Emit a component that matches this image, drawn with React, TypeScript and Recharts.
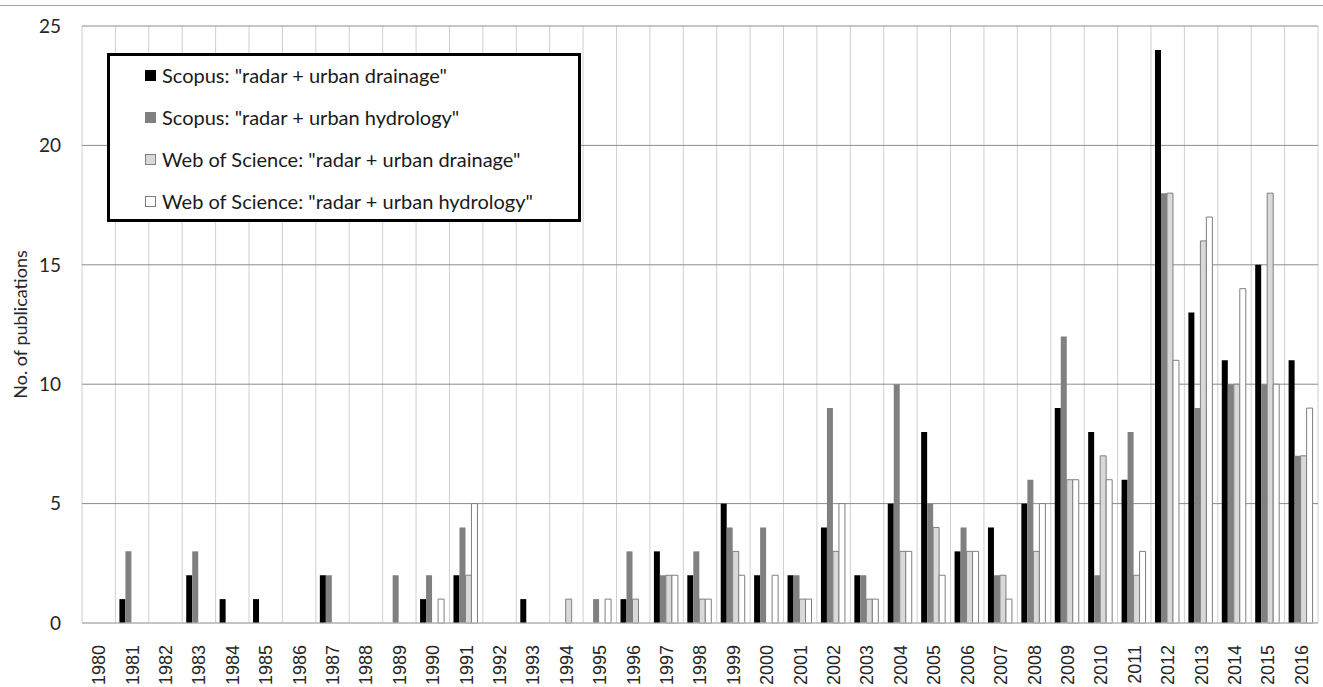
import React from 'react'
import { BarChart, Bar, XAxis, YAxis, CartesianGrid, Legend } from 'recharts'

const years = [
  '1980', '1981', '1982', '1983', '1984', '1985', '1986', '1987', '1988', '1989',
  '1990', '1991', '1992', '1993', '1994', '1995', '1996', '1997', '1998', '1999',
  '2000', '2001', '2002', '2003', '2004', '2005', '2006', '2007', '2008', '2009',
  '2010', '2011', '2012', '2013', '2014', '2015', '2016',
]

const scopusDrainage = [0, 1, 0, 2, 1, 1, 0, 2, 0, 0, 1, 2, 0, 1, 0, 0, 1, 3, 2, 5, 2, 2, 4, 2, 5, 8, 3, 4, 5, 9, 8, 6, 24, 13, 11, 15, 11]
const scopusHydrology = [0, 3, 0, 3, 0, 0, 0, 2, 0, 2, 2, 4, 0, 0, 0, 1, 3, 2, 3, 4, 4, 2, 9, 2, 10, 5, 4, 2, 6, 12, 2, 8, 18, 9, 10, 10, 7]
const wosDrainage = [0, 0, 0, 0, 0, 0, 0, 0, 0, 0, 0, 2, 0, 0, 1, 0, 1, 2, 1, 3, 0, 1, 3, 1, 3, 4, 3, 2, 3, 6, 7, 2, 18, 16, 10, 18, 7]
const wosHydrology = [0, 0, 0, 0, 0, 0, 0, 0, 0, 0, 1, 5, 0, 0, 0, 1, 0, 2, 1, 2, 2, 1, 5, 1, 3, 2, 3, 1, 5, 6, 6, 3, 11, 17, 14, 10, 9]

const yTicks = [0, 5, 10, 15, 20, 25]

const series = [
  { key: 'scopusDrainage', name: 'Scopus: "radar + urban drainage"', fill: '#000000', stroke: 'none' },
  { key: 'scopusHydrology', name: 'Scopus: "radar + urban hydrology"', fill: '#808080', stroke: 'none' },
  { key: 'wosDrainage', name: 'Web of Science: "radar + urban drainage"', fill: '#d9d9d9', stroke: '#7f7f7f' },
  { key: 'wosHydrology', name: 'Web of Science: "radar + urban hydrology"', fill: '#ffffff', stroke: '#7f7f7f' },
]

const data = years.map((year, i) => ({
  year,
  scopusDrainage: scopusDrainage[i],
  scopusHydrology: scopusHydrology[i],
  wosDrainage: wosDrainage[i],
  wosHydrology: wosHydrology[i],
}))

const W = 1323
const H = 687

function YearTick({ x, y, payload }: any) {
  return (
    <text
      x={x}
      y={y + 14}
      transform={`rotate(-90, ${x}, ${y + 14})`}
      textAnchor="end"
      dy="0.36em"
      fontFamily="'Liberation Sans', Arial, sans-serif"
      fontSize={18}
      fill="#262626"
    >
      {payload.value}
    </text>
  )
}

function YTitle({ viewBox }: any) {
  const cx = viewBox.x + 21
  const cy = viewBox.y + viewBox.height / 2
  return (
    <text
      x={cx}
      y={cy}
      transform={`rotate(-90, ${cx}, ${cy})`}
      textAnchor="middle"
      dy="0.35em"
      fontFamily="Lato, sans-serif"
      fontSize={18}
      fill="#262626"
    >
      No. of publications
    </text>
  )
}

function LegendBox() {
  return (
    <div
      style={{
        boxSizing: 'border-box',
        width: 474,
        height: 169,
        border: '3px solid #000',
        background: '#fff',
        fontFamily: 'Lato, sans-serif',
        fontSize: 20,
        color: '#1a1a1a',
      }}
    >
      <div style={{ marginTop: -2 }}>
        {series.map((s) => (
          <div key={s.key} style={{ height: 42, display: 'flex', alignItems: 'center', paddingLeft: 35 }}>
            <span
              style={{
                display: 'inline-block',
                boxSizing: 'border-box',
                width: 11,
                height: 11,
                background: s.fill,
                border: `1px solid ${s.stroke === 'none' ? s.fill : s.stroke}`,
                marginRight: 6,
              }}
            />
            <span>{s.name}</span>
          </div>
        ))}
      </div>
    </div>
  )
}

export default function App() {
  return (
    <div style={{ position: 'absolute', left: 0, top: 0, width: W, height: H, background: '#fff' }}>
      <div style={{ position: 'absolute', left: 0, top: 5, width: W, borderTop: '1px solid #a6a6a6' }} />
      <BarChart
        width={W}
        height={H}
        data={data}
        margin={{ top: 26, right: 5, bottom: 0, left: 0 }}
        barCategoryGap="12%"
        barGap={0}
      >
        <CartesianGrid
          horizontal={false}
          stroke="#d0d0d0"
          verticalCoordinatesGenerator={({ offset }: any) =>
            years.map((_, i) => offset.left + (i * offset.width) / years.length).concat(offset.left + offset.width)
          }
        />
        <CartesianGrid vertical={false} stroke="#8c8c8c" />
        <XAxis
          dataKey="year"
          interval={0}
          height={64}
          tickLine={false}
          axisLine={{ stroke: '#c4c4c4' }}
          tick={<YearTick />}
        />
        <YAxis
          width={82}
          domain={[0, 25]}
          ticks={yTicks}
          interval={0}
          tickLine={false}
          axisLine={false}
          tickMargin={15}
          tick={{ fontFamily: 'Lato, sans-serif', fontSize: 19, fill: '#262626' }}
          label={<YTitle />}
        />
        <Legend
          layout="vertical"
          align="center"
          verticalAlign="middle"
          wrapperStyle={{ left: 107, top: 53, width: 474, height: 169 }}
          content={<LegendBox />}
        />
        {series.map((s) => (
          <Bar
            key={s.key}
            dataKey={s.key}
            name={s.name}
            fill={s.fill}
            stroke={s.stroke}
            strokeWidth={1}
            isAnimationActive={false}
          />
        ))}
      </BarChart>
    </div>
  )
}
